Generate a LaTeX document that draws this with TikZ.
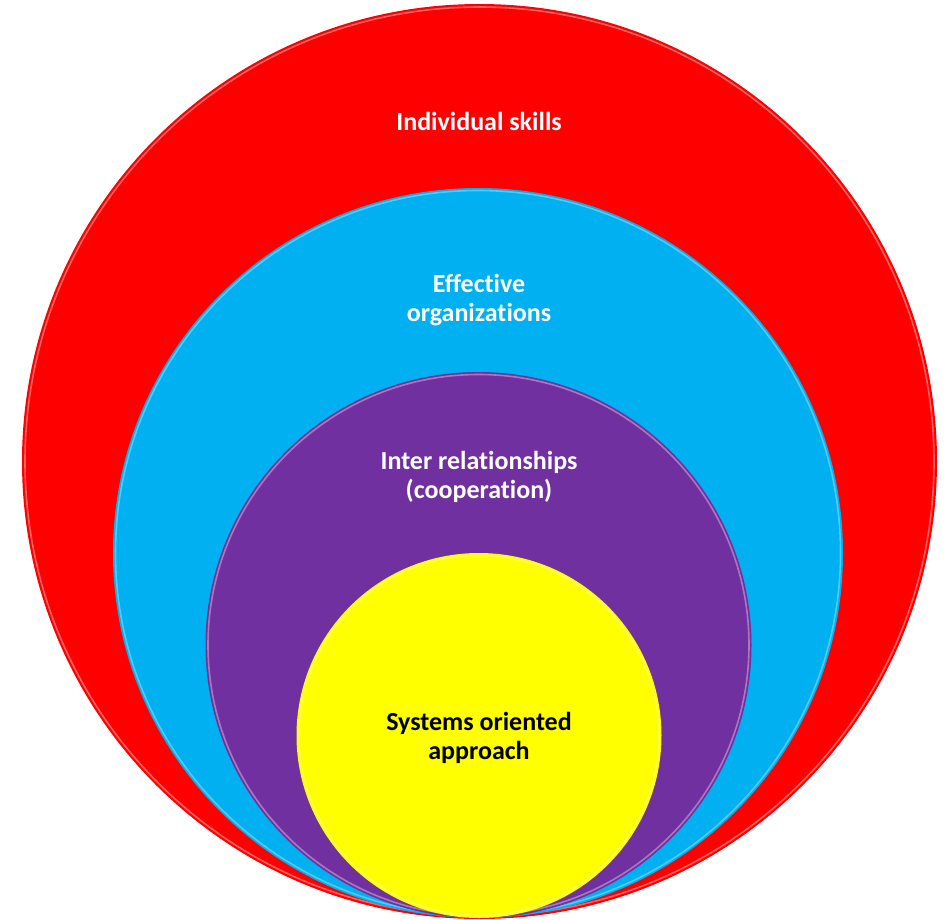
\documentclass[tikz,border=0pt]{standalone}
\usepackage{fontspec}
\setmainfont{Carlito}[Ligatures={NoCommon}]
\definecolor{cred}{HTML}{FF0000}
\definecolor{cblue}{HTML}{00B0F0}
\definecolor{cpurple}{HTML}{7030A0}
\definecolor{cyellow}{HTML}{FFFF00}
\begin{document}
\begin{tikzpicture}[x=1pt,y=-1pt,
  ring/.style={circle, inner sep=0pt, outer sep=0pt, draw=none},
  lbl/.style={align=center, font=\fontsize{26}{29.5}\selectfont\bfseries, text=white},
  bevel/.style={line width=1.6pt, opacity=0.55}]
\useasboundingbox (0,0) rectangle (945,919);
\node[ring, fill=cred, minimum size=915pt] (red) at (479.5,461.5) {};
\draw[bevel, white!70!cred] (479.5,461.5) circle (454.5);
\node[ring, fill=cblue, minimum size=730pt] (blue) at (478,553) {};
\draw[bevel, cyan!40!white] (478,553) circle (362.5);
\node[ring, fill=cpurple, minimum size=546pt] (purple) at (478.5,645) {};
\draw[bevel, violet!30!white] (478.5,645) circle (270.5);
\node[ring, fill=cyellow, minimum size=365pt] (yellow) at (479,735.5) {};
\draw[bevel, yellow!40!white] (479,735.5) circle (180);
\node[lbl] (t1) at (479,121) {Individual skills};
\node[lbl] (t2) at (479,300) {Effective\\organizations};
\node[lbl] (t3) at (479,477) {Inter relationships\\(cooperation)};
\node[lbl, text=black] (t4) at (479,738) {Systems oriented\\approach};
\end{tikzpicture}
\end{document}
